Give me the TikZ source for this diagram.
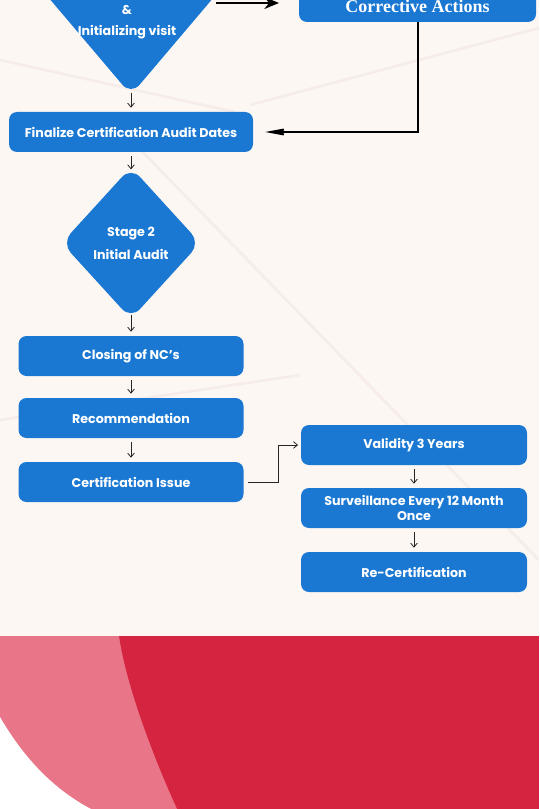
\documentclass[tikz,border=0pt]{standalone}
\usepackage{fontspec}
\setmainfont{Poppins}
\newfontfamily\serifbox{Liberation Serif}
\usetikzlibrary{shapes.geometric, arrows.meta}
\definecolor{boxblue}{HTML}{1A78D3}
\definecolor{cream}{HTML}{FDF7F4}
\definecolor{streak}{HTML}{F6ECE9}
\definecolor{rosered}{HTML}{D5243F}
\definecolor{rosepink}{HTML}{E87688}

\begin{document}
\begin{tikzpicture}[x=0.75pt, y=-0.75pt,
    stepbox/.style={rectangle, rounded corners=6pt, fill=boxblue, text=white, align=center,
        font=\bfseries\fontsize{9.5}{11.5}\selectfont, minimum height=30pt, inner sep=2pt},
    stagebox/.style={diamond, rounded corners=10pt, fill=boxblue, text=white, align=center,
        font=\bfseries\fontsize{9.5}{17}\selectfont, inner sep=0pt},
    smallarrow/.style={-{Straight Barb[length=3pt,width=5pt]}, semithick, black!85, shorten >=3pt, shorten <=3pt},
    bigarrow/.style={line width=1.5pt, black}]
\useasboundingbox (0,0) rectangle (539,809);
\clip (0,0) rectangle (539,809);
% Draw background
\fill[cream] (0,0) rectangle (539,636);
\fill[rosered] (0,636) rectangle (539,809);
\fill[rosepink] (0,636) -- (119,636) .. controls (125,680) and (150,750) .. (177,809) -- (0,809) -- cycle;
\fill[white] (0,717) .. controls (25,760) and (55,790) .. (91,809) -- (0,809) -- cycle;
% Draw faint streaks
\foreach \xa/\ya/\xb/\yb in {0/60/235/112, 250/105/539/28, 131/140/539/560, 0/420/300/375}
    \draw[streak, line width=2pt] (\xa,\ya) -- (\xb,\yb);
% Draw stages
\node[stagebox, minimum width=133.5pt, minimum height=157.5pt] (stageone) at (131,-10) {};
\node[text=white, align=center, font=\bfseries\fontsize{9.5}{15.5}\selectfont] (stageonetext) at (127,22) {\&\\Initializing visit};
\node[stepbox, font=\serifbox\bfseries\fontsize{13.5}{15}\selectfont, minimum width=177.75pt, minimum height=24pt] (corrective) at (417.5,6) {Corrective Actions};
\node[stepbox, minimum width=183pt] (finalize) at (131,132) {Finalize Certification Audit Dates};
\node[stagebox, minimum width=104pt, minimum height=114pt] (stagetwo) at (131,243) {Stage 2\\Initial Audit};
\node[stepbox, minimum width=168.75pt] (closing) at (131,356) {Closing of NC's};
\node[stepbox, minimum width=168.75pt] (recommend) at (131,418) {Recommendation};
\node[stepbox, minimum width=168.75pt] (certissue) at (131,482) {Certification Issue};
\node[stepbox, minimum width=169.5pt] (validity) at (414,445) {Validity 3 Years};
\node[stepbox, minimum width=169.5pt] (surveil) at (414,508) {Surveillance Every 12 Month\\Once};
\node[stepbox, minimum width=169.5pt] (recert) at (414,572) {Re-Certification};
% Draw arrows
\coordinate (toright) at (216,3);
\coordinate (tocorr) at (279,3);
\draw[bigarrow, -{Stealth[length=11pt, width=9pt]}] (toright) -- (tocorr);
\draw[bigarrow, -{Stealth[length=32pt, width=12pt, inset=22pt]}] (corrective.south) |- ([xshift=9pt]finalize.east);
\draw[smallarrow, shorten <=-2pt] (stageone) -- (finalize);
\draw[smallarrow, shorten >=-2pt] (finalize) -- (stagetwo);
\draw[smallarrow, shorten <=-3pt] (stagetwo) -- (closing);
\foreach \a/\b in {closing/recommend, recommend/certissue, validity/surveil, surveil/recert}
    \draw[smallarrow] (\a) -- (\b);
\draw[smallarrow, shorten >=2pt] (certissue.east) -- ++(35,0) |- (validity.west);
\end{tikzpicture}
\end{document}
